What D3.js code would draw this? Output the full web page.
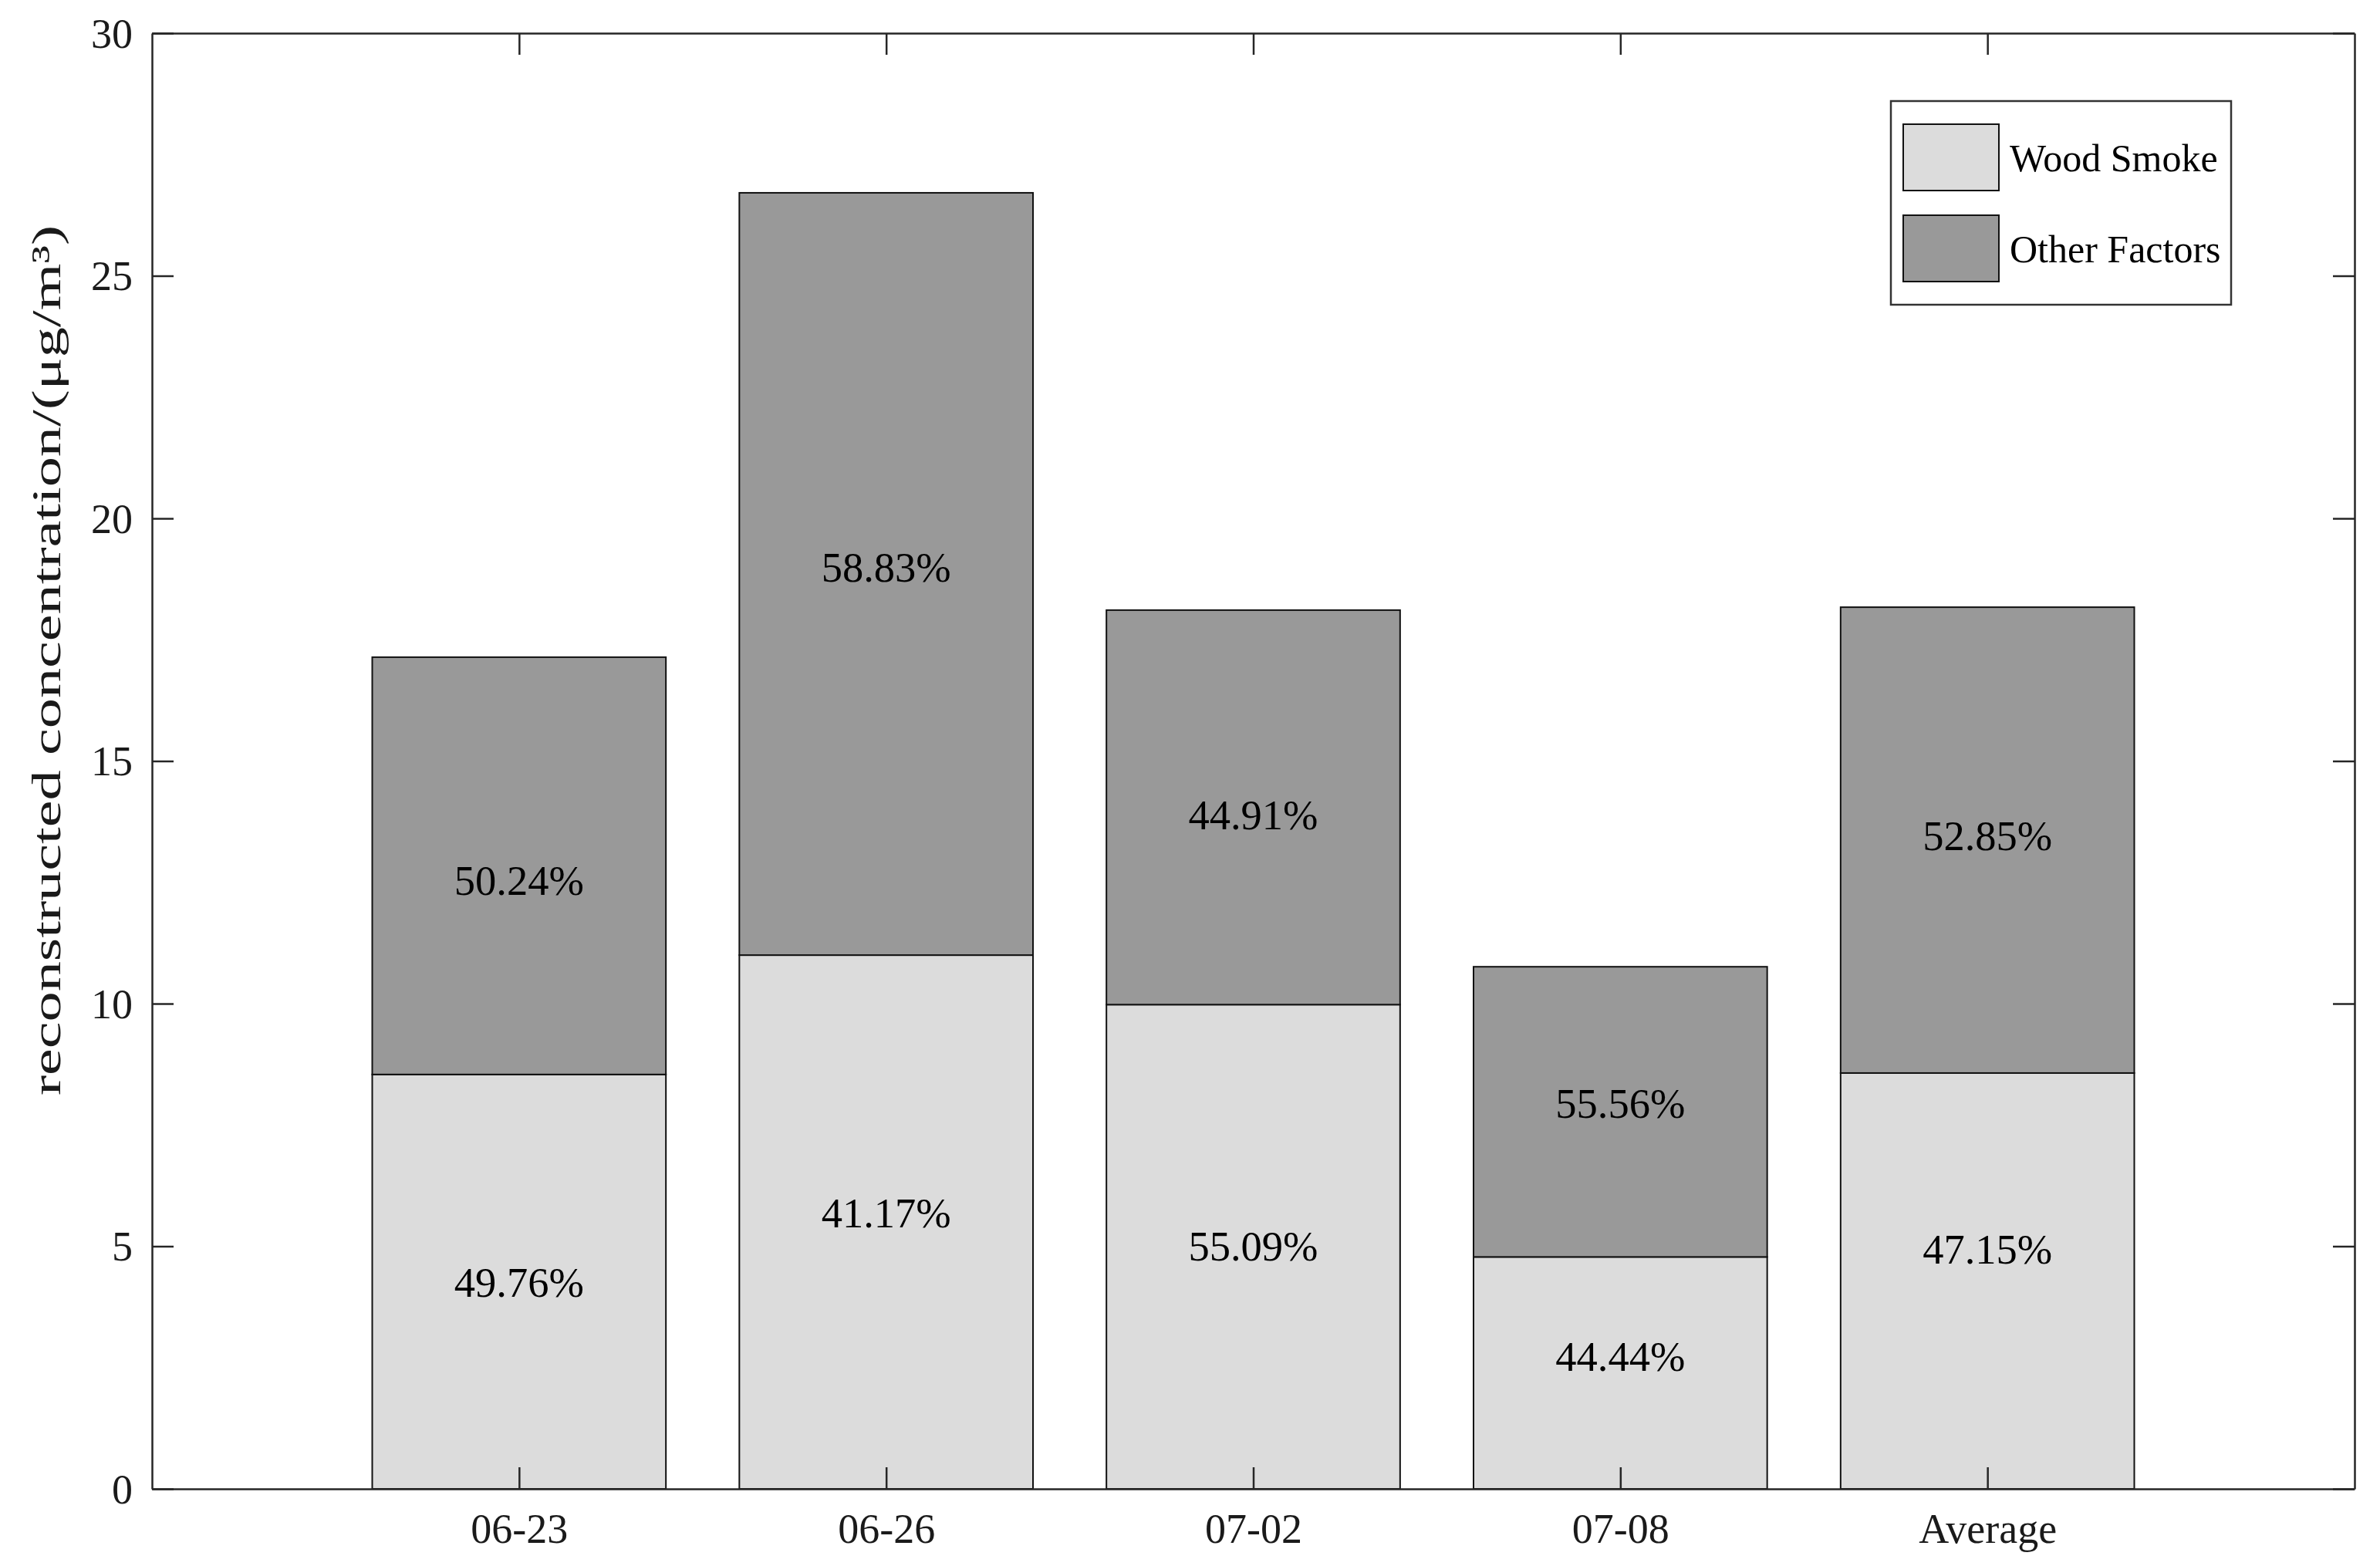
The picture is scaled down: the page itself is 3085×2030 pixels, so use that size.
<!DOCTYPE html>
<html>
<head>
<meta charset="utf-8">
<script src="https://cdn.jsdelivr.net/npm/d3@7"></script>
<style>
  html, body { margin: 0; padding: 0; background: #fff; }
  svg { display: block; }
  text { font-family: "Liberation Serif", "Times New Roman", serif; }
</style>
</head>
<body>
<script>
// ---- data ----
const categories = ["06-23", "06-26", "07-02", "07-08", "Average"];
const woodSmoke = [8.54, 11.00, 9.98, 4.78, 8.57];
const otherFactors = [8.60, 15.71, 8.13, 5.98, 9.60];
const woodPctLabels = ["49.76%", "41.17%", "55.09%", "44.44%", "47.15%"];
const otherPctLabels = ["50.24%", "58.83%", "44.91%", "55.56%", "52.85%"];
const woodLabelAt = [4.25, 5.69, 5.00, 2.72, 4.94];
const otherLabelAt = [12.54, 18.99, 13.89, 7.94, 13.45];
const yTicks = [0, 5, 10, 15, 20, 25, 30];
const seriesNames = ["Wood Smoke", "Other Factors"];
const yLabel = "reconstructed concentration/(μg/m³)";

// ---- layout ----
const W = 3085, H = 2030;
const m = { left: 197, right: 3052, top: 43, bottom: 1930 };
const colors = ["#dcdcdc", "#999999"];
const axisColor = "#262626";

const svg = d3.select("body").append("svg").attr("width", W).attr("height", H);

const x = d3.scaleLinear().domain([0, 6]).range([m.left, m.right]);
const y = d3.scaleLinear().domain([0, 30]).range([m.bottom, m.top]);
const barW = 0.8;

const stackData = categories.map((c, i) => ({ cat: c, i: i + 1, wood: woodSmoke[i], other: otherFactors[i] }));
const stack = d3.stack().keys(["wood", "other"])(stackData);

// bars
stack.forEach((layer, k) => {
  svg.append("g").selectAll("rect").data(layer).join("rect")
    .attr("x", d => x(d.data.i - barW / 2))
    .attr("width", d => x(d.data.i + barW / 2) - x(d.data.i - barW / 2))
    .attr("y", d => y(d[1]))
    .attr("height", d => y(d[0]) - y(d[1]))
    .attr("fill", colors[k])
    .attr("stroke", "#111")
    .attr("stroke-width", 2);
});

// percentage labels
const pctFont = 54.5;
svg.append("g").selectAll("text").data(categories).join("text")
  .attr("x", (d, i) => x(i + 1))
  .attr("y", (d, i) => y(woodLabelAt[i]))
  .attr("text-anchor", "middle").attr("dominant-baseline", "central")
  .attr("font-size", pctFont).attr("fill", "#000")
  .text((d, i) => woodPctLabels[i]);
svg.append("g").selectAll("text").data(categories).join("text")
  .attr("x", (d, i) => x(i + 1))
  .attr("y", (d, i) => y(otherLabelAt[i]))
  .attr("text-anchor", "middle").attr("dominant-baseline", "central")
  .attr("font-size", pctFont).attr("fill", "#000")
  .text((d, i) => otherPctLabels[i]);

// axes (MATLAB-like box with inward ticks)
const tickLen = 28;
const xTickVals = categories.map((c, i) => i + 1);
const fmtX = d => categories[d - 1];

const gxB = svg.append("g").attr("transform", `translate(0,${m.bottom})`)
  .call(d3.axisBottom(x).tickValues(xTickVals).tickFormat(fmtX).tickSizeInner(-tickLen).tickSizeOuter(0).tickPadding(32));
const gxT = svg.append("g").attr("transform", `translate(0,${m.top})`)
  .call(d3.axisTop(x).tickValues(xTickVals).tickFormat("").tickSizeInner(-tickLen).tickSizeOuter(0));
const gyL = svg.append("g").attr("transform", `translate(${m.left},0)`)
  .call(d3.axisLeft(y).tickValues(yTicks).tickFormat(d3.format("d")).tickSizeInner(-tickLen).tickSizeOuter(0).tickPadding(25));
const gyR = svg.append("g").attr("transform", `translate(${m.right},0)`)
  .call(d3.axisRight(y).tickValues(yTicks).tickFormat("").tickSizeInner(-tickLen).tickSizeOuter(0));

[gxB, gxT, gyL, gyR].forEach(g => {
  g.select(".domain").attr("stroke", axisColor).attr("stroke-width", 2.5);
  g.selectAll(".tick line").attr("stroke", axisColor).attr("stroke-width", 2.5);
  g.selectAll(".tick text").attr("font-family", "Liberation Serif, Times New Roman, serif")
    .attr("font-size", 54).attr("fill", "#1a1a1a");
});
gxB.selectAll(".tick text").attr("dy", "0.71em");
gyL.selectAll(".tick text").attr("dy", "0.34em");

// y-axis label
svg.append("text")
  .attr("transform", `translate(78,856) rotate(-90)`)
  .attr("text-anchor", "middle")
  .attr("font-size", 53).attr("fill", "#1a1a1a")
  .attr("textLength", 1128).attr("lengthAdjust", "spacingAndGlyphs")
  .text(yLabel);

// legend
const lg = svg.append("g");
lg.append("rect").attr("x", 2451).attr("y", 131).attr("width", 441).attr("height", 264)
  .attr("fill", "#fff").attr("stroke", "#333").attr("stroke-width", 2.5);
seriesNames.forEach((name, k) => {
  lg.append("rect").attr("x", 2467).attr("y", 161 + k * 118).attr("width", 124).attr("height", 86)
    .attr("fill", colors[k]).attr("stroke", "#111").attr("stroke-width", 2);
  lg.append("text").attr("x", 2605).attr("y", 222 + k * 118)
    .attr("font-size", 50).attr("fill", "#000").text(name);
});
</script>
</body>
</html>
